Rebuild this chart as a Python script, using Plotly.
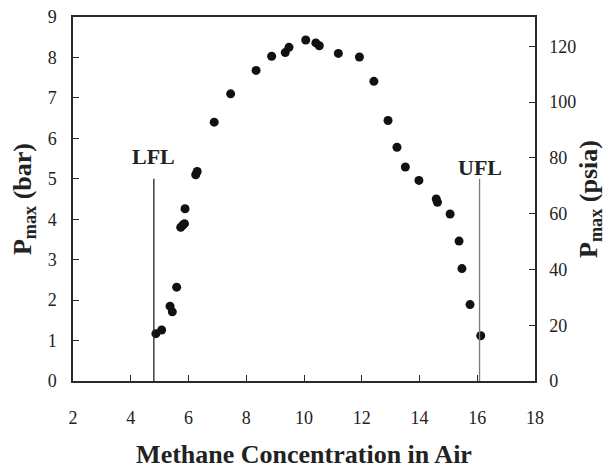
import plotly.graph_objects as go

# Data
methane_pct = [4.87, 5.07, 5.36, 5.44, 5.59, 5.73, 5.80, 5.86, 5.88, 6.25, 6.30,
               6.89, 7.46, 8.34, 8.88, 9.35, 9.48, 10.06, 10.41, 10.53, 11.19,
               11.92, 12.42, 12.91, 13.22, 13.51, 13.98, 14.58, 14.62, 15.06,
               15.37, 15.47, 15.75, 16.12]
pmax_bar = [1.17, 1.26, 1.85, 1.71, 2.32, 3.80, 3.85, 3.89, 4.26, 5.10, 5.18,
            6.40, 7.10, 7.68, 8.03, 8.12, 8.25, 8.43, 8.36, 8.29, 8.10,
            8.01, 7.41, 6.44, 5.78, 5.29, 4.96, 4.50, 4.42, 4.13,
            3.46, 2.78, 1.89, 1.12]

limit_names = ["LFL", "UFL"]
limit_x = [4.8, 16.08]
limit_top = [5.0, 5.0]
limit_colors = ["#222222", "#7a7a7a"]
limit_label_shift = [8, -3]

x_ticks = [2, 4, 6, 8, 10, 12, 14, 16, 18]
bar_ticks = [0, 1, 2, 3, 4, 5, 6, 7, 8, 9]
psia_ticks = [0, 20, 40, 60, 80, 100, 120]
BAR_TO_PSIA = 14.5038

FONT = "Liberation Serif, Times New Roman, serif"
AX = "#2a2a2a"
TXT = "#222222"

fig = go.Figure()
fig.add_trace(go.Scatter(
    x=methane_pct, y=pmax_bar, mode="markers",
    marker=dict(color="#111111", size=9, symbol="circle"),
    showlegend=False, hoverinfo="x+y"))
# invisible trace to draw the psia axis
fig.add_trace(go.Scatter(
    x=methane_pct, y=[v * BAR_TO_PSIA for v in pmax_bar], yaxis="y2",
    mode="markers", marker=dict(opacity=0), showlegend=False, hoverinfo="skip"))

for name, xv, top, col, sh in zip(limit_names, limit_x, limit_top,
                                  limit_colors, limit_label_shift):
    fig.add_shape(type="line", x0=xv, x1=xv, y0=0, y1=top, xref="x", yref="y",
                  line=dict(color=col, width=1.3))
    fig.add_annotation(x=xv, y=top, text="<b>%s</b>" % name, showarrow=False,
                       yanchor="bottom", yshift=sh,
                       font=dict(family=FONT, size=22, color=TXT))

# the page body adds an 8px offset, so the figure is drawn 8px smaller
fig.update_layout(
    width=607, height=461,
    margin=dict(l=65, r=80, t=9, b=88),
    paper_bgcolor="white", plot_bgcolor="white",
    font=dict(family=FONT, size=18, color=TXT),
    xaxis=dict(range=[2, 18], tickvals=x_ticks, ticks="inside", ticklen=6,
               tickcolor=AX, showline=True, linecolor=AX, linewidth=1.5,
               mirror=True, showgrid=False, zeroline=False, automargin=False,
               tickfont=dict(size=18), ticklabelstandoff=20,
               ticklabeloverflow="allow",
               title=dict(text="<b>Methane Concentration in Air</b>",
                          font=dict(size=26), standoff=28)),
    yaxis=dict(range=[0, 9], tickvals=bar_ticks, ticks="inside", ticklen=6,
               tickcolor=AX, showline=True, linecolor=AX, linewidth=1.5,
               showgrid=False, zeroline=False, automargin=False,
               tickfont=dict(size=18), ticklabelstandoff=11,
               ticklabeloverflow="allow",
               title=dict(text="<b>P<sub>max</sub> (bar)</b>",
                          font=dict(size=26), standoff=14)),
    yaxis2=dict(range=[0, 9 * BAR_TO_PSIA], tickvals=psia_ticks,
                overlaying="y", side="right", ticks="inside", ticklen=6,
                tickcolor=AX, showline=True, linecolor=AX, linewidth=1.5,
                showgrid=False, zeroline=False, automargin=False,
                tickfont=dict(size=18), ticklabelstandoff=9,
                ticklabeloverflow="allow",
                title=dict(text="<b>P<sub>max</sub> (psia)</b>",
                           font=dict(size=26), standoff=3)),
)

fig.write_html("out.html")
